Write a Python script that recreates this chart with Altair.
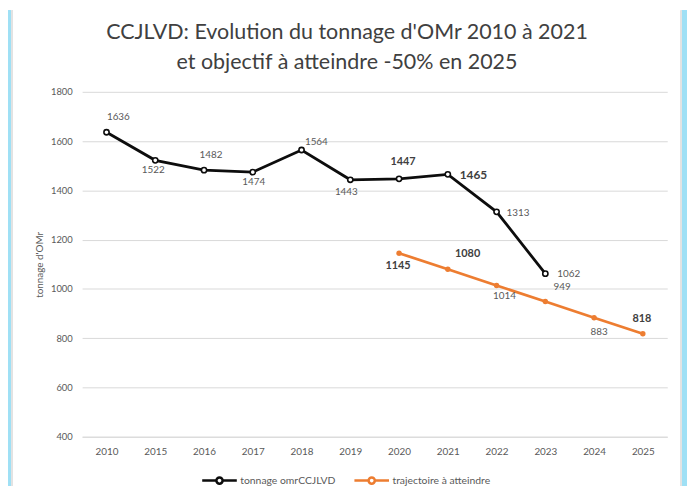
import altair as alt
import pandas as pd

# ---- data ----
years = ["2010", "2015", "2016", "2017", "2018", "2019",
         "2020", "2021", "2022", "2023", "2024", "2025"]
omr_years = ["2010", "2015", "2016", "2017", "2018", "2019",
             "2020", "2021", "2022", "2023"]
omr_values = [1636, 1522, 1482, 1474, 1564, 1443, 1447, 1465, 1313, 1062]
traj_years = ["2020", "2021", "2022", "2023", "2024", "2025"]
traj_values = [1145, 1080, 1014, 949, 883, 818]
series_names = ["tonnage omrCCJLVD", "trajectoire à atteindre"]
title_lines = ["CCJLVD: Evolution du tonnage d'OMr 2010 à 2021",
               "et objectif à atteindre -50% en 2025"]
y_title = "tonnage d'OMr"

df = pd.DataFrame(
    {"year": omr_years + traj_years,
     "value": omr_values + traj_values,
     "series": [series_names[0]] * len(omr_years) + [series_names[1]] * len(traj_years)}
)

# ---- styling ----
BLACK = "#0d0d0d"
ORANGE = "#ed7d31"
BLUE = "#9fe0f5"
FONT = "Lato"
W, H = 592, 349
PAD = {"left": 75, "top": 82, "right": 20, "bottom": 47}

# label placement per (series index, year): dx, dy, align, bold, size
label_style = {
    (0, "2010"): (12, -15, "center", False, 10),
    (0, "2015"): (-2, 10, "center", False, 10),
    (0, "2016"): (7, -15, "center", False, 10),
    (0, "2017"): (1, 10, "center", False, 10),
    (0, "2018"): (15, -8, "center", False, 10),
    (0, "2019"): (-4, 12, "center", False, 10),
    (0, "2020"): (4, -17, "center", True, 11),
    (0, "2021"): (12, 1, "left", True, 12),
    (0, "2022"): (10, 1, "left", False, 10),
    (0, "2023"): (12, 0, "left", False, 10),
    (1, "2020"): (-1, 13, "center", True, 11),
    (1, "2021"): (20, -15, "center", True, 11),
    (1, "2022"): (8, 11, "center", False, 10),
    (1, "2023"): (17, -15, "center", False, 10),
    (1, "2024"): (5, 14, "center", False, 10),
    (1, "2025"): (-1, -15, "center", True, 11),
}

x_enc = alt.X("year:N", sort=years, scale=alt.Scale(domain=years),
              axis=alt.Axis(title=None, labelAngle=0, ticks=False, domain=True,
                            domainColor="#d9d9d9", labelPadding=10, labelFontSize=10,
                            labelColor="#595959", labelFont=FONT))
y_enc = alt.Y("value:Q", scale=alt.Scale(domain=[400, 1800], nice=False, zero=False),
              axis=alt.Axis(title=y_title, values=list(range(400, 1801, 200)), format="d",
                            ticks=False, domain=False, gridColor="#d9d9d9", labelPadding=10,
                            labelFontSize=9.5, labelColor="#595959", labelFont=FONT,
                            titleFont=FONT, titleFontSize=10, titleFontWeight="normal",
                            titleColor="#595959", titlePadding=6))

base = alt.Chart(df)

# blue frame strips at the left and right edges of the picture
left_strip = base.mark_rect(fill=BLUE).encode(
    x=alt.value(-80), x2=alt.value(-72), y=alt.value(-82), y2=alt.value(400)
)
right_strip = base.mark_rect(fill=BLUE).encode(
    x=alt.value(607), x2=alt.value(620), y=alt.value(-82), y2=alt.value(400)
)
card_edge_l = base.mark_rule(stroke="#e3e3e3", strokeWidth=1.5).encode(
    x=alt.value(-71), y=alt.value(-82), y2=alt.value(400)
)
card_edge_r = base.mark_rule(stroke="#e3e3e3", strokeWidth=1.5).encode(
    x=alt.value(606), y=alt.value(-82), y2=alt.value(400)
)

legend_path = ("M-1,0L-0.18,0M0.18,0L1,0"
               "M0.18,0A0.18,0.18,0,1,1,-0.18,0A0.18,0.18,0,1,1,0.18,0Z")

lines = base.mark_line(strokeWidth=2.8).encode(
    x=x_enc, y=y_enc,
    color=alt.Color("series:N",
                    scale=alt.Scale(domain=series_names, range=[BLACK, ORANGE]),
                    legend=alt.Legend(
                        title=None, orient="none", direction="horizontal",
                        legendX=120, legendY=374,
                        symbolType=legend_path, symbolSize=1225, symbolStrokeWidth=2.6,
                        symbolFillColor="white",
                        labelFont=FONT, labelFontSize=10.5, labelColor="#595959",
                        labelOffset=2, columnPadding=13,
                    )),
)

pts_black = base.transform_filter(alt.datum.series == series_names[0]).mark_point(
    shape="circle", filled=True, fill="white", stroke=BLACK, strokeWidth=1.6, size=28, opacity=1
).encode(x=alt.X("year:N", sort=years), y="value:Q")

pts_orange = base.transform_filter(alt.datum.series == series_names[1]).mark_point(
    shape="circle", filled=True, fill=ORANGE, size=30, opacity=1
).encode(x=alt.X("year:N", sort=years), y="value:Q")

label_layers = []
for (si, yr), (dx, dy, align, bold, size) in label_style.items():
    label_layers.append(
        base.transform_filter(
            (alt.datum.series == series_names[si]) & (alt.datum.year == yr)
        ).mark_text(
            dx=dx, dy=dy, align=align, baseline="middle", font=FONT, fontSize=size,
            fontWeight="bold" if bold else "normal",
            color="#404040" if bold else "#595959",
        ).encode(x=alt.X("year:N", sort=years), y="value:Q", text="value:Q")
    )

chart = alt.layer(lines, pts_black, pts_orange, *label_layers,
                  left_strip, right_strip, card_edge_l, card_edge_r).properties(
    width=W, height=H,
    autosize=alt.AutoSizeParams(type="none"),
    padding=PAD,
    background="white",
    title=alt.TitleParams(text=title_lines, font=FONT, fontSize=21.7, fontWeight="normal",
                          color="#404040", anchor="middle", frame="group",
                          dx=-28, dy=64, offset=0, lineHeight=30),
).configure_view(stroke=None)

chart.save("out.html", embed_options={"renderer": "svg", "actions": False})
